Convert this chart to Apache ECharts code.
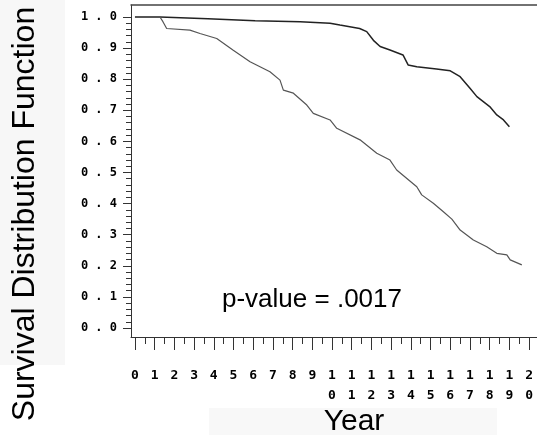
<!DOCTYPE html>
<html>
<head>
<meta charset="utf-8">
<script src="https://cdn.jsdelivr.net/npm/echarts@6/dist/echarts.min.js"></script>
<style>html,body{margin:0;padding:0;background:#fff;}#c{width:537px;height:435px;}</style>
</head>
<body>
<div id="c"></div>
<script>
// ---- data ----
var upperYears = [0, 1.27, 1.3, 3.7, 3.75, 6.1, 6.15, 8.38, 9.9, 10.4, 11.4, 11.76, 12.1, 12.44, 12.94, 13.6, 13.86, 14.3, 15.3, 16.0, 16.5, 17.0, 17.35, 18.0, 18.36, 18.7, 19.0];
var upperSurv  = [1.0, 1.0, 0.994, 0.994, 0.988, 0.988, 0.985, 0.985, 0.980, 0.974, 0.963, 0.953, 0.925, 0.905, 0.894, 0.878, 0.846, 0.840, 0.833, 0.827, 0.808, 0.771, 0.744, 0.712, 0.685, 0.669, 0.647];
var lowerYears = [0, 1.27, 1.42, 1.61, 2.79, 3.3, 4.15, 4.97, 5.84, 6.85, 7.36, 7.53, 8.04, 8.72, 9.05, 9.9, 10.24, 11.42, 12.27, 12.94, 13.28, 14.3, 14.55, 15.14, 15.65, 16.08, 16.5, 17.17, 17.85, 18.36, 18.87, 19.04, 19.63];
var lowerSurv  = [1.0, 1.0, 0.985, 0.963, 0.958, 0.947, 0.931, 0.894, 0.856, 0.824, 0.797, 0.765, 0.755, 0.717, 0.690, 0.669, 0.642, 0.605, 0.562, 0.540, 0.508, 0.454, 0.428, 0.401, 0.374, 0.350, 0.315, 0.283, 0.261, 0.240, 0.235, 0.219, 0.203];
var yTicks = [0, 0.1, 0.2, 0.3, 0.4, 0.5, 0.6, 0.7, 0.8, 0.9, 1.0];
var yMinorTicks = [0.02,0.04,0.06,0.08,0.12,0.14,0.16,0.18,0.22,0.24,0.26,0.28,0.32,0.34,0.36,0.38,0.42,0.44,0.46,0.48,0.52,0.54,0.56,0.58,0.62,0.64,0.66,0.68,0.72,0.74,0.76,0.78,0.82,0.84,0.86,0.88,0.92,0.94,0.96,0.98];
var xTicks = [0,1,2,3,4,5,6,7,8,9,10,11,12,13,14,15,16,17,18,19,20];
var xMinorTicks = [0.5,1.5,2.5,3.5,4.5,5.5,6.5,7.5,8.5,9.5,10.5,11.5,12.5,13.5,14.5,15.5,16.5,17.5,18.5,19.5];
var yTitle = 'Survival Distribution Function';
var xTitle = 'Year';
var note = 'p-value = .0017';

function zip(a, b) { return a.map(function (v, i) { return [v, b[i]]; }); }

var X_MIN = -0.2, X_MAX = 20.4, Y_MIN = -0.029, Y_MAX = 1.0386;
var axisColor = '#333';
var tickFont = { fontFamily: 'DejaVu Sans Mono', fontWeight: 'bold', color: '#000' };

var chart = echarts.init(document.getElementById('c'), null, { renderer: 'canvas' });
chart.setOption({
  animation: false,
  backgroundColor: '#fff',
  grid: { left: 131, top: 5, right: 0, bottom: 98, containLabel: false },
  xAxis: [
    {
      type: 'value', min: X_MIN, max: X_MAX, position: 'bottom',
      axisLine: { show: true, onZero: false, lineStyle: { color: axisColor, width: 1 } },
      axisTick: { show: true, customValues: xTicks, length: 13, lineStyle: { color: axisColor } },
      axisLabel: {
        show: true, customValues: xTicks, margin: 29, fontSize: 13, lineHeight: 20,
        fontFamily: tickFont.fontFamily, fontWeight: tickFont.fontWeight, color: tickFont.color,
        verticalAlign: 'top',
        formatter: function (v) { return String(Math.round(v)).split('').join('\n'); }
      },
      splitLine: { show: false }
    },
    {
      type: 'value', min: X_MIN, max: X_MAX, position: 'bottom', gridIndex: 0,
      axisLine: { show: false, onZero: false },
      axisTick: { show: true, customValues: xMinorTicks, length: 7, lineStyle: { color: axisColor } },
      axisLabel: { show: false },
      splitLine: { show: false }
    },
    {
      type: 'value', min: X_MIN, max: X_MAX, position: 'top', gridIndex: 0,
      axisLine: { show: true, onZero: false, lineStyle: { color: '#444', width: 1.5 } },
      axisTick: { show: false }, axisLabel: { show: false }, splitLine: { show: false }
    }
  ],
  yAxis: [
    {
      type: 'value', min: Y_MIN, max: Y_MAX, position: 'left',
      axisLine: { show: true, onZero: false, lineStyle: { color: axisColor, width: 1 } },
      axisTick: { show: true, customValues: yTicks, length: 8, lineStyle: { color: axisColor } },
      axisLabel: {
        show: true, customValues: yTicks, margin: 14, fontSize: 12,
        fontFamily: tickFont.fontFamily, fontWeight: tickFont.fontWeight, color: tickFont.color,
        formatter: function (v) { return v.toFixed(1).split('').join(' '); }
      },
      splitLine: { show: false }
    },
    {
      type: 'value', min: Y_MIN, max: Y_MAX, position: 'left', gridIndex: 0,
      axisLine: { show: false, onZero: false },
      axisTick: { show: true, customValues: yMinorTicks, length: 5, lineStyle: { color: axisColor } },
      axisLabel: { show: false },
      splitLine: { show: false }
    }
  ],
  series: [
    {
      type: 'line', xAxisIndex: 0, yAxisIndex: 0, showSymbol: false, silent: true,
      data: zip(upperYears, upperSurv),
      lineStyle: { color: '#222', width: 1.5 }
    },
    {
      type: 'line', xAxisIndex: 0, yAxisIndex: 0, showSymbol: false, silent: true,
      data: zip(lowerYears, lowerSurv),
      lineStyle: { color: '#555', width: 1.2 }
    }
  ],
  graphic: [
    { type: 'rect', z: -10, shape: { x: 0, y: 0, width: 65, height: 365 }, style: { fill: '#f7f7f7' } },
    { type: 'rect', z: -10, shape: { x: 209, y: 408, width: 288, height: 27 }, style: { fill: '#f8f8f8' } },
    {
      type: 'text', x: 25, y: 214, rotation: Math.PI / 2,
      style: { text: yTitle, font: '32px "Liberation Sans", Arial, sans-serif', fill: '#000', textAlign: 'center', textVerticalAlign: 'middle' }
    },
    {
      type: 'text', x: 354, y: 422,
      style: { text: xTitle, font: '30px "Liberation Sans", Arial, sans-serif', fill: '#000', textAlign: 'center', textVerticalAlign: 'middle' }
    },
    {
      type: 'text', x: 222, y: 300,
      style: { text: note, font: '26px "Liberation Sans", Arial, sans-serif', fill: '#000', textAlign: 'left', textVerticalAlign: 'middle' }
    }
  ]
});
</script>
</body>
</html>
